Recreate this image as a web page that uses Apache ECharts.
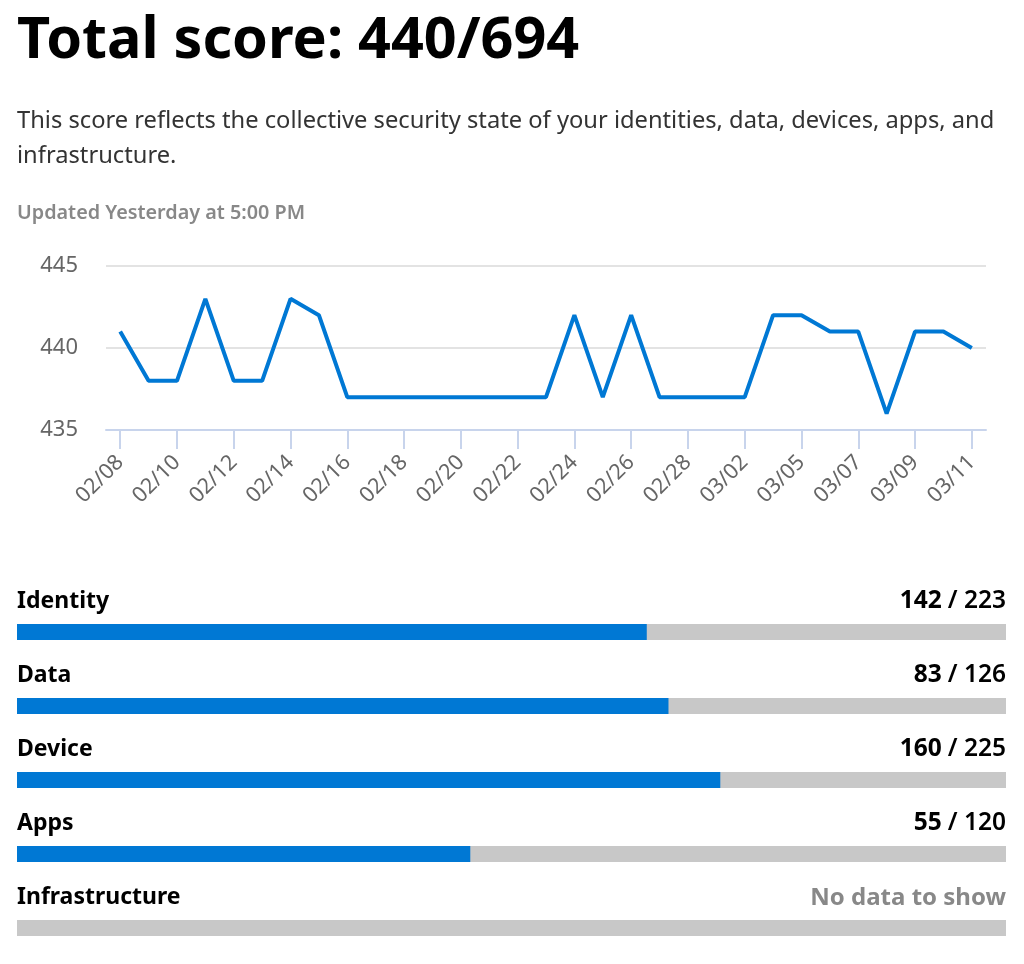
<!DOCTYPE html>
<html>
<head>
<meta charset="utf-8">
<script src="https://cdn.jsdelivr.net/npm/echarts@6/dist/echarts.min.js"></script>
<style>
html,body{margin:0;padding:0;background:#fff;}
#c{width:1024px;height:964px;}
</style>
</head>
<body>
<div id="c"></div>
<script>
// ---- data ----
const titleText = 'Total score: 440/694';
const descLines = ['This score reflects the collective security state of your identities, data, devices, apps, and', 'infrastructure.'];
const updatedText = 'Updated Yesterday at 5:00 PM';
const dates = ['02/08','02/09','02/10','02/11','02/12','02/13','02/14','02/15','02/16','02/17','02/18','02/19','02/20','02/21','02/22','02/23','02/24','02/25','02/26','02/27','02/28','03/01','03/02','03/04','03/05','03/06','03/07','03/08','03/09','03/10','03/11'];
const scores = [441,438,438,443,438,438,443,442,437,437,437,437,437,437,437,437,442,437,442,437,437,437,437,442,442,441,441,436,441,441,440];
const yTicks = [435, 440, 445];
const categories = ['Identity','Data','Device','Apps','Infrastructure'];
const catScores = [142, 83, 160, 55, null];
const catTotals = [223, 126, 225, 120, null];
const noDataText = 'No data to show';

const FONT = '"Noto Sans", "Open Sans", sans-serif';
const BLUE = '#0078d4';
const GRAY_BAR = '#c8c8c8';

const chart = echarts.init(document.getElementById('c'));

const grids = [{left:106, right:38, top:266, height:164}];
const xAxes = [{
  type:'category', gridIndex:0, data:dates, boundaryGap:true,
  axisLine:{show:true, lineStyle:{color:'#c8d4ec', width:2}},
  axisTick:{show:true, alignWithLabel:true, interval:1, length:19, lineStyle:{color:'#c8d4ec', width:2}},
  axisLabel:{interval:1, rotate:45, color:'#666', fontSize:21.5, fontFamily:FONT, margin:29}
}];
const yAxes = [{
  type:'value', gridIndex:0, min:yTicks[0], max:yTicks[yTicks.length-1], interval:5,
  axisLine:{show:false}, axisTick:{show:false},
  axisLabel:{color:'#666', fontSize:22, fontFamily:FONT, margin:28},
  splitLine:{lineStyle:{color:'#e3e3e3', width:2}}
}];
const series = [{
  type:'line', xAxisIndex:0, yAxisIndex:0, data:scores,
  symbol:'none', lineStyle:{color:BLUE, width:4}, itemStyle:{color:BLUE}
}];
const graphics = [];

// text header
graphics.push({type:'text', left:17, top:13, style:{text:titleText, font:'bold 57.5px ' + FONT, fill:'#000'}});
descLines.forEach((t,i)=>{
  graphics.push({type:'text', left:17, top:109 + i*35, style:{text:t, font:'23.7px ' + FONT, fill:'#333'}});
});
graphics.push({type:'text', left:17, top:203, style:{text:updatedText, font:'600 19.8px ' + FONT, fill:'#888'}});

categories.forEach((name, i) => {
  const top = 624 + 74*i;
  const gi = i + 1;
  grids.push({left:17, right:18, top:top, height:16});
  const total = catTotals[i];
  xAxes.push({type:'value', gridIndex:gi, min:0, max: total == null ? 1 : total, show:false});
  yAxes.push({type:'category', gridIndex:gi, data:[name], show:false});
  series.push({
    type:'bar', xAxisIndex:gi, yAxisIndex:gi, data:[catScores[i] == null ? 0 : catScores[i]],
    barWidth:16, itemStyle:{color:BLUE}, showBackground:true,
    backgroundStyle:{color:GRAY_BAR}, silent:true
  });
  graphics.push({type:'text', left:17, top:top-34, style:{text:name, font:'bold 23px ' + FONT, fill:'#000'}});
  if (total == null) {
    graphics.push({type:'text', right:18, top:top-34, style:{text:noDataText, font:'bold 24px ' + FONT, fill:'#888'}});
  } else {
    graphics.push({type:'text', right:18, top:top-35, style:{
      text:'{a|' + catScores[i] + '}{s| }{b|/ ' + total + '}',
      rich:{a:{font:'bold 24.5px ' + FONT, color:'#000'}, s:{font:'24px ' + FONT, width:6}, b:{font:'600 24.5px ' + FONT, color:'#888'}}
    }});
  }
});

chart.setOption({
  animation:false,
  grid:grids, xAxis:xAxes, yAxis:yAxes, series:series, graphic:graphics
});
</script>
</body>
</html>
